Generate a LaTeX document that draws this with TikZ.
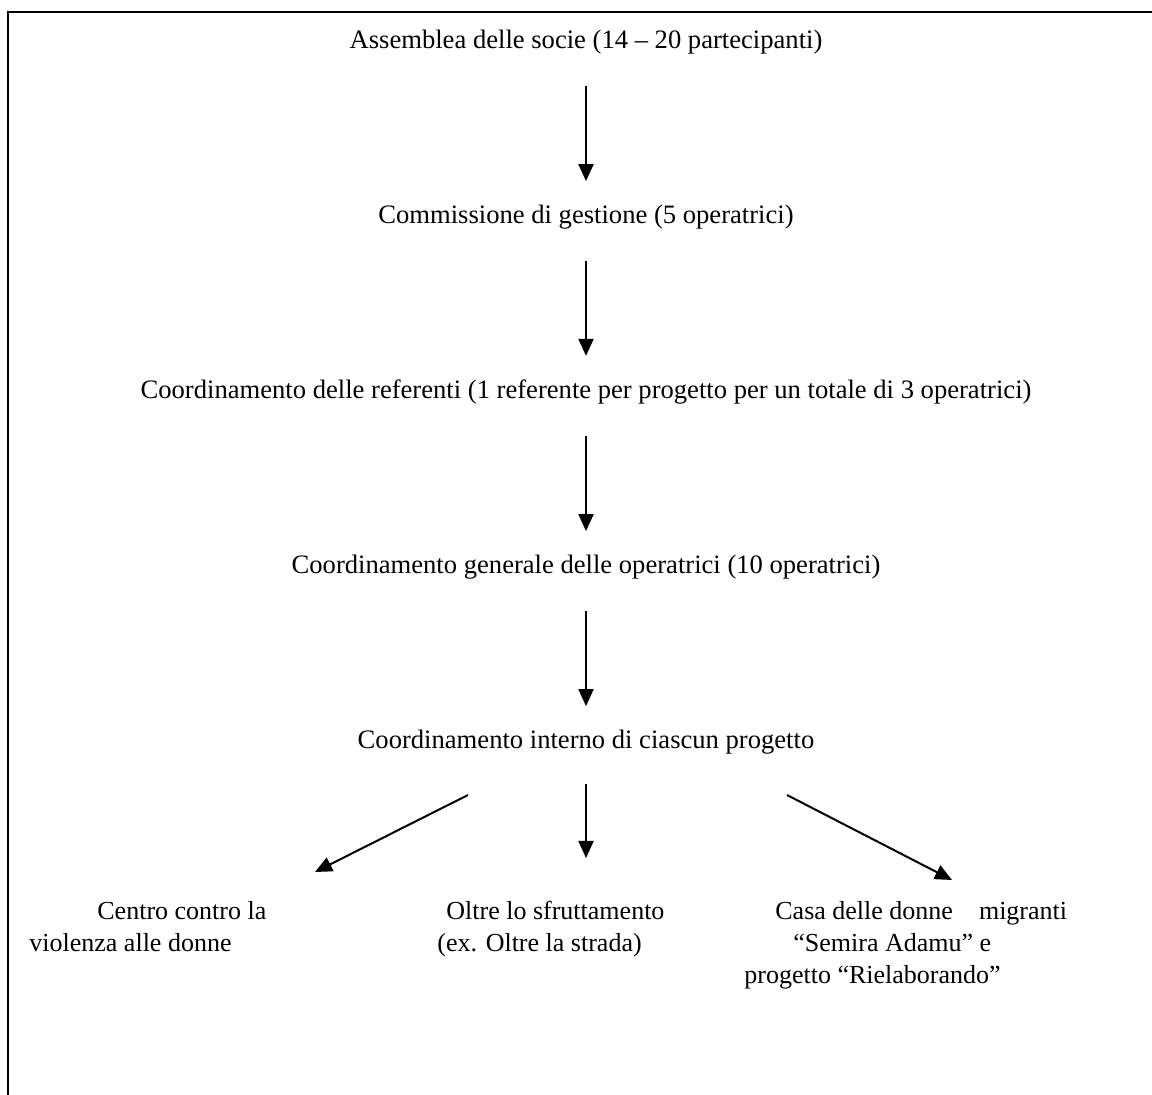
\documentclass[tikz,border=0pt]{standalone}
\usepackage{fontspec}
\setmainfont{Liberation Serif}
\usetikzlibrary{arrows.meta}

\begin{document}
\begin{tikzpicture}[x=0.5pt,y=-0.5pt,
	livello/.style={anchor=base,inner sep=0pt,font=\fontsize{13.3}{16}\selectfont},
	blocco/.style={anchor=north west,inner sep=0pt,align=left,font=\fontsize{13}{16}\selectfont},
	freccia/.style={line width=1pt,-{Triangle[width=7.5pt,length=8.5pt]}},
	giu/.style={freccia,shorten <=15.5pt,shorten >=12pt}]
	\useasboundingbox (0,0) rectangle (1152,1095);
	\draw[line width=1.4pt] (1152,12)--(8,12)--(8,1095);
	% livelli
	\node[livello] (assemblea) at (586,49){Assemblea delle socie (14 – 20 partecipanti)};
	\node[livello] (commissione) at (586,224){Commissione di gestione (5 operatrici)};
	\node[livello] (referenti) at (586,399){Coordinamento delle referenti (1 referente per progetto per un totale di 3 operatrici)};
	\node[livello] (generale) at (586,574){Coordinamento generale delle operatrici (10 operatrici)};
	\node[livello] (interno) at (586,749){Coordinamento interno di ciascun progetto};
	% progetti
	\node[blocco] (centro) at (29,901){\hspace*{34pt}Centro contro la\\violenza alle donne};
	\node[blocco] (oltre) at (437,901){\hspace*{4.5pt}Oltre lo sfruttamento\\(ex. Oltre la strada)};
	\node[blocco] (casa) at (744,901){\hspace*{15.5pt}Casa delle donne\hspace{13pt}migranti\\\hspace*{24.5pt}“Semira Adamu” e\\progetto “Rielaborando”};
	\coordinate (sx) at (468,795);
	\coordinate (sxp) at (315,872);
	\coordinate (dx) at (787,795);
	\coordinate (dxp) at (952,880);
	% frecce
	\draw[giu] (assemblea.south)--(commissione.north);
	\draw[giu] (commissione.south)--(referenti.north);
	\draw[giu] (referenti.south)--(generale.north);
	\draw[giu] (generale.south)--(interno.north);
	\draw[freccia,shorten <=14.5pt,shorten >=21.5pt] (interno.south)--(interno.south |- oltre.north);
	\draw[freccia] (sx)--(sxp);
	\draw[freccia] (dx)--(dxp);
\end{tikzpicture}
\end{document}
